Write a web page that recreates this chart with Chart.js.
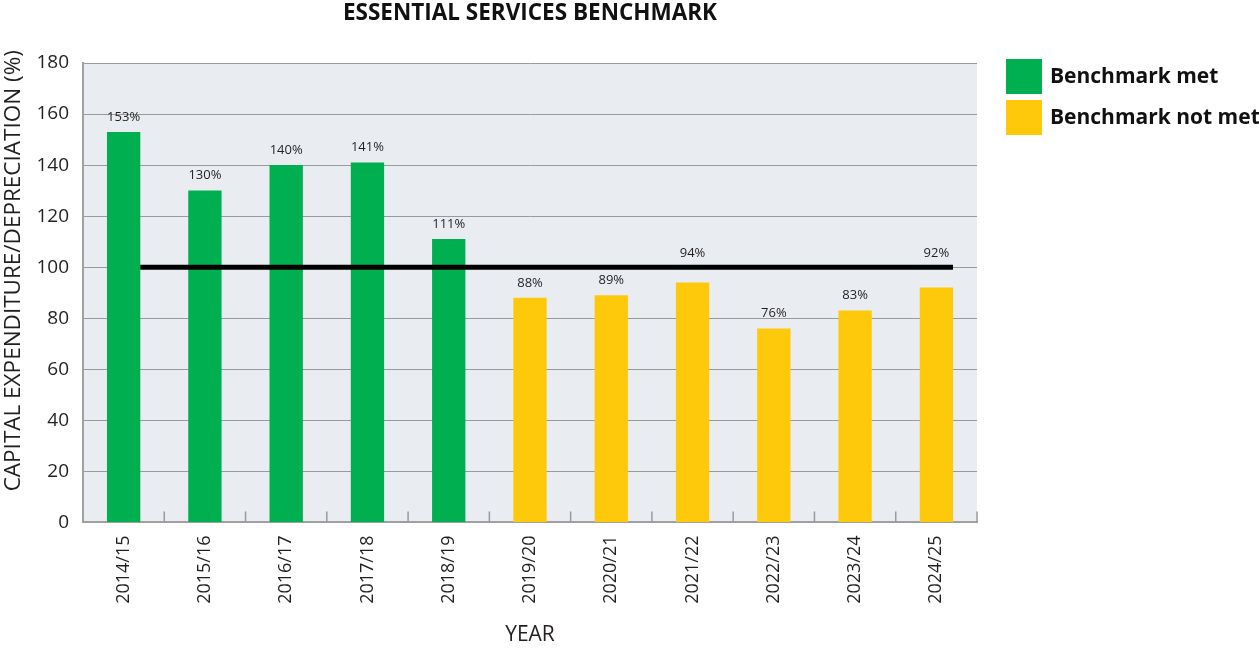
<!DOCTYPE html>
<html>
<head>
<meta charset="utf-8">
<title>Essential services benchmark</title>
<script src="https://cdn.jsdelivr.net/npm/chart.js@4.4.0/dist/chart.umd.min.js"></script>
<style>
  html, body { margin: 0; padding: 0; background: #fff; }
  #wrap { width: 1259px; height: 648px; position: relative; }
</style>
</head>
<body>
<div id="wrap"><canvas id="benchmarkChart"></canvas></div>
<script>
// Capital expenditure as a share of depreciation, per financial year
const years = ['2014/15', '2015/16', '2016/17', '2017/18', '2018/19', '2019/20', '2020/21', '2021/22', '2022/23', '2023/24', '2024/25'];
const ratios = [153, 130, 140, 141, 111, 88, 89, 94, 76, 83, 92];
const benchmark = 100;
const legendLabels = ['Benchmark met', 'Benchmark not met'];
const yAxisTitle = 'CAPITAL EXPENDITURE/DEPRECIATION (%)';

const GREEN = '#00af4f';
const YELLOW = '#ffc90b';
const FONT = "'Open Sans', 'Noto Sans', sans-serif";

window.onload = function () {
    const ctx = document.getElementById('benchmarkChart').getContext('2d');

    // Light grey fill behind the plot
    const plotBackground = {
        id: 'plotBackground',
        beforeDraw(chart) {
            const a = chart.chartArea;
            const c = chart.ctx;
            c.save();
            c.fillStyle = '#e9edf1';
            c.fillRect(a.left, a.top, a.right - a.left, a.bottom - a.top);
            c.restore();
        }
    };

    // Short ticks between the year columns, pointing up from the base line
    const categoryTicks = {
        id: 'categoryTicks',
        afterDraw(chart) {
            const x = chart.scales.x;
            const a = chart.chartArea;
            const c = chart.ctx;
            c.save();
            c.strokeStyle = '#9a9a9a';
            c.lineWidth = 1.5;
            for (let i = 1; i <= years.length; i++) {
                const px = i < years.length
                    ? (x.getPixelForValue(i - 1) + x.getPixelForValue(i)) / 2
                    : a.right;
                c.beginPath();
                c.moveTo(px, a.bottom);
                c.lineTo(px, a.bottom - 11);
                c.stroke();
            }
            c.restore();
        }
    };

    // Black benchmark line at 100%, running from the first bar's edge to the last one's
    const benchmarkLine = {
        id: 'benchmarkLine',
        afterDatasetsDraw(chart) {
            const bars = chart.getDatasetMeta(0).data;
            const first = bars[0], last = bars[bars.length - 1];
            const y = chart.scales.y.getPixelForValue(benchmark);
            const c = chart.ctx;
            c.save();
            c.strokeStyle = '#000';
            c.lineWidth = 5;
            c.beginPath();
            c.moveTo(first.x + first.width / 2, y);
            c.lineTo(last.x + last.width / 2, y);
            c.stroke();
            c.restore();
        }
    };

    // Percentage above each bar; labels that would sit on the benchmark line go above it
    const valueLabels = {
        id: 'valueLabels',
        afterDatasetsDraw(chart) {
            const bars = chart.getDatasetMeta(0).data;
            const lineY = chart.scales.y.getPixelForValue(benchmark);
            const c = chart.ctx;
            c.save();
            c.font = '13px ' + FONT;
            c.fillStyle = '#231f20';
            c.textAlign = 'center';
            c.textBaseline = 'middle';
            bars.forEach((bar, i) => {
                let y = bar.y - 15;
                if (Math.abs(y - lineY) < 12) y = lineY - 14;
                c.fillText(ratios[i] + '%', bar.x, y);
            });
            c.restore();
        }
    };

    // Vertical axis caption, set a little above the middle of the plot
    const yCaption = {
        id: 'yCaption',
        afterDraw(chart) {
            const a = chart.chartArea;
            const c = chart.ctx;
            c.save();
            c.translate(14, (a.top + a.bottom) / 2 - 22);
            c.rotate(-Math.PI / 2);
            c.font = '22.5px ' + FONT;
            c.fillStyle = '#231f20';
            c.textAlign = 'center';
            c.textBaseline = 'middle';
            c.fillText(yAxisTitle, 0, 0);
            c.restore();
        }
    };

    // Colour key to the right of the plot
    const sideLegend = {
        id: 'sideLegend',
        afterDraw(chart) {
            const a = chart.chartArea;
            const c = chart.ctx;
            const colors = [GREEN, YELLOW];
            c.save();
            c.font = 'bold 21px ' + FONT;
            c.textBaseline = 'middle';
            legendLabels.forEach((label, i) => {
                const left = a.right + 29;
                const top = a.top - 4 + i * 41;
                c.fillStyle = colors[i];
                c.fillRect(left, top, 36, 35);
                c.fillStyle = '#111';
                c.fillText(label, left + 44, top + 18);
            });
            c.restore();
        }
    };

    new Chart(ctx, {
        type: 'bar',
        data: {
            labels: years,
            datasets: [{
                label: 'Capital expenditure/depreciation',
                data: ratios,
                backgroundColor: ratios.map(v => v >= benchmark ? GREEN : YELLOW),
                borderWidth: 0,
                barPercentage: 0.41,
                categoryPercentage: 1
            }]
        },
        options: {
            responsive: true,
            maintainAspectRatio: false,
            animation: false,
            layout: { padding: { left: 0, right: 282, top: 0, bottom: 0 } },
            scales: {
                x: {
                    grid: { display: false },
                    border: { display: true, color: '#a0a0a0', width: 2 },
                    ticks: {
                        minRotation: 90,
                        maxRotation: 90,
                        padding: 5,
                        color: '#231f20',
                        font: { family: FONT, size: 18 }
                    },
                    title: {
                        display: true,
                        text: 'YEAR',
                        color: '#231f20',
                        padding: { top: 14, bottom: 0 },
                        font: { family: FONT, size: 21 }
                    }
                },
                y: {
                    min: 0,
                    max: 180,
                    afterFit(scale) { scale.width = 83; },
                    ticks: {
                        stepSize: 20,
                        padding: 14,
                        color: '#231f20',
                        font: { family: FONT, size: 19 }
                    },
                    grid: { color: '#9a9a9a', lineWidth: 1, drawTicks: false },
                    border: { display: true, color: '#a0a0a0', width: 2 }
                }
            },
            plugins: {
                legend: { display: false },
                tooltip: { enabled: false },
                title: {
                    display: true,
                    fullSize: false,
                    text: 'ESSENTIAL SERVICES BENCHMARK',
                    color: '#111',
                    padding: { top: 0, bottom: 36 },
                    font: { family: FONT, size: 22.5, weight: 'bold' }
                }
            }
        },
        plugins: [plotBackground, categoryTicks, benchmarkLine, valueLabels, yCaption, sideLegend]
    });
};
</script>
</body>
</html>
